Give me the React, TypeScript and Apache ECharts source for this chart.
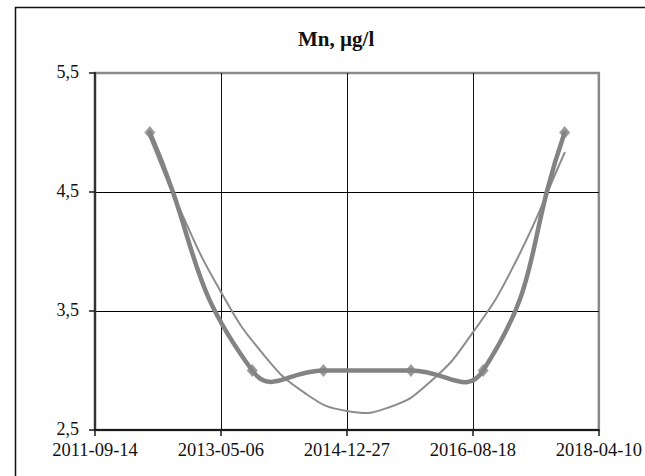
import React, { useEffect, useRef } from 'react';
import * as echarts from 'echarts';

const TITLE = 'Mn, µg/l';
const xTickLabels = ['2011-09-14', '2013-05-06', '2014-12-27', '2016-08-18', '2018-04-10'];
const yTickLabels = ['2,5', '3,5', '4,5', '5,5'];

const sampleDates = ['2012-06-01', '2013-10-02', '2014-09-06', '2015-10-28', '2016-10-06', '2017-10-29'];
const mnValues = [5.0, 3.0, 3.0, 3.0, 3.0, 5.0];

const trendDates = ['2012-06-01', '2012-10-18', '2013-05-06', '2013-11-22', '2014-06-10', '2014-12-27', '2015-07-15', '2016-01-31', '2016-08-18', '2017-03-06', '2017-10-29'];
const trendValues = [4.96, 4.37, 3.66, 3.14, 2.81, 2.66, 2.69, 2.91, 3.32, 3.9, 4.83];

const BASE = Date.UTC(1899, 11, 30);
function toSerial(s: string): number {
  const [y, m, d] = s.split('-').map(Number);
  return Math.round((Date.UTC(y, m - 1, d) - BASE) / 86400000);
}
function fromSerial(n: number): string {
  return new Date(BASE + Math.round(n) * 86400000).toISOString().slice(0, 10);
}
function parseNum(s: string): number {
  return parseFloat(s.replace(',', '.'));
}

const mainPts = sampleDates.map((d, i) => [toSerial(d), mnValues[i]]);
const trendPts = trendDates.map((d, i) => [toSerial(d), trendValues[i]]);

const xMin = toSerial(xTickLabels[0]);
const xMax = toSerial(xTickLabels[xTickLabels.length - 1]);
const xInterval = toSerial(xTickLabels[1]) - xMin;
const yMin = parseNum(yTickLabels[0]);
const yMax = parseNum(yTickLabels[yTickLabels.length - 1]);
const yInterval = parseNum(yTickLabels[1]) - yMin;

const FONT = "'Liberation Serif', 'Times New Roman', serif";
const LINE_GREY = '#838383';

// Excel-like smoothing (Bezier with neighbour-based control points, no clamping)
function controlPoints(P: number[][], s: number) {
  return P.map((p, i) => {
    const prev = P[i - 1] || p;
    const next = P[i + 1] || p;
    const vx = next[0] - prev[0];
    const vy = next[1] - prev[1];
    const lp = Math.hypot(p[0] - prev[0], p[1] - prev[1]);
    const ln = Math.hypot(next[0] - p[0], next[1] - p[1]);
    const r = lp + ln > 0 ? ln / (lp + ln) : 0;
    return {
      prev: [p[0] - vx * s * (1 - r), p[1] - vy * s * (1 - r)],
      next: [p[0] + vx * s * r, p[1] + vy * s * r],
    };
  });
}

function smoothSeries(name: string, pts: number[][], color: string, width: number, z: number) {
  return {
    type: 'custom',
    name,
    data: pts,
    encode: { x: 0, y: 1 },
    z,
    silent: true,
    renderItem: (params: any, api: any) => {
      const i = params.dataIndex;
      if (i >= pts.length - 1) return { type: 'group', children: [] };
      const P = pts.map((p) => api.coord(p));
      const cp = controlPoints(P, 0.5);
      return {
        type: 'bezierCurve',
        shape: {
          x1: P[i][0],
          y1: P[i][1],
          x2: P[i + 1][0],
          y2: P[i + 1][1],
          cpx1: cp[i].next[0],
          cpy1: cp[i].next[1],
          cpx2: cp[i + 1].prev[0],
          cpy2: cp[i + 1].prev[1],
        },
        style: { stroke: color, lineWidth: width, fill: null, lineCap: 'round' },
      };
    },
  };
}

export default function App() {
  const ref = useRef<HTMLDivElement>(null);
  useEffect(() => {
    if (!ref.current) return;
    const chart = echarts.init(ref.current, undefined, { renderer: 'svg' });
    chart.setOption({
      animation: false,
      backgroundColor: '#fff',
      title: {
        text: TITLE,
        left: 298,
        top: 28,
        padding: 0,
        textStyle: { fontFamily: FONT, fontSize: 21, fontWeight: 'bold', color: '#111' },
      },
      graphic: [
        {
          type: 'rect',
          silent: true,
          z: -10,
          shape: { x: 15.5, y: 7.5, width: 700, height: 600 },
          style: { fill: 'none', stroke: '#111', lineWidth: 1.5 },
        },
      ],
      grid: {
        left: 95,
        right: 45,
        top: 73,
        bottom: 46,
        show: true,
        borderColor: '#8a8a8a',
        borderWidth: 2.5,
        backgroundColor: 'transparent',
      },
      xAxis: {
        type: 'value',
        min: xMin,
        max: xMax,
        interval: xInterval,
        axisLine: { show: true, onZero: false, lineStyle: { color: '#1a1a1a', width: 2 } },
        axisTick: { show: true, length: 6, lineStyle: { color: '#1a1a1a', width: 1.5 } },
        axisLabel: {
          formatter: (v: number) => fromSerial(v),
          fontFamily: FONT,
          fontSize: 18.5,
          color: '#111',
          margin: 10,
          showMinLabel: true,
          showMaxLabel: true,
        },
        splitLine: { show: true, showMinLine: false, showMaxLine: false, lineStyle: { color: '#111', width: 1 } },
      },
      yAxis: {
        type: 'value',
        min: yMin,
        max: yMax,
        interval: yInterval,
        axisLine: { show: true, onZero: false, lineStyle: { color: '#333', width: 2.2 } },
        axisTick: { show: true, length: 6, lineStyle: { color: '#1a1a1a', width: 1.5 } },
        axisLabel: {
          formatter: (v: number) => v.toFixed(1).replace('.', ','),
          fontFamily: FONT,
          fontSize: 18,
          color: '#111',
          margin: 16,
          verticalAlign: 'bottom',
          lineHeight: 20,
          padding: [0, 0, -9, 0],
        },
        splitLine: { show: true, showMinLine: false, showMaxLine: false, lineStyle: { color: '#000', width: 1 } },
      },
      series: [
        smoothSeries('trend', trendPts, '#8d8d8d', 2, 2),
        smoothSeries('Mn', mainPts, LINE_GREY, 4.5, 3),
        {
          type: 'scatter',
          name: 'Mn points',
          data: mainPts,
          symbol: 'diamond',
          symbolSize: [11, 13],
          itemStyle: { color: LINE_GREY },
          z: 4,
        },
      ],
    });
    return () => chart.dispose();
  }, []);
  return <div ref={ref} style={{ position: 'absolute', left: 0, top: 0, width: 645, height: 476 }} />;
}
